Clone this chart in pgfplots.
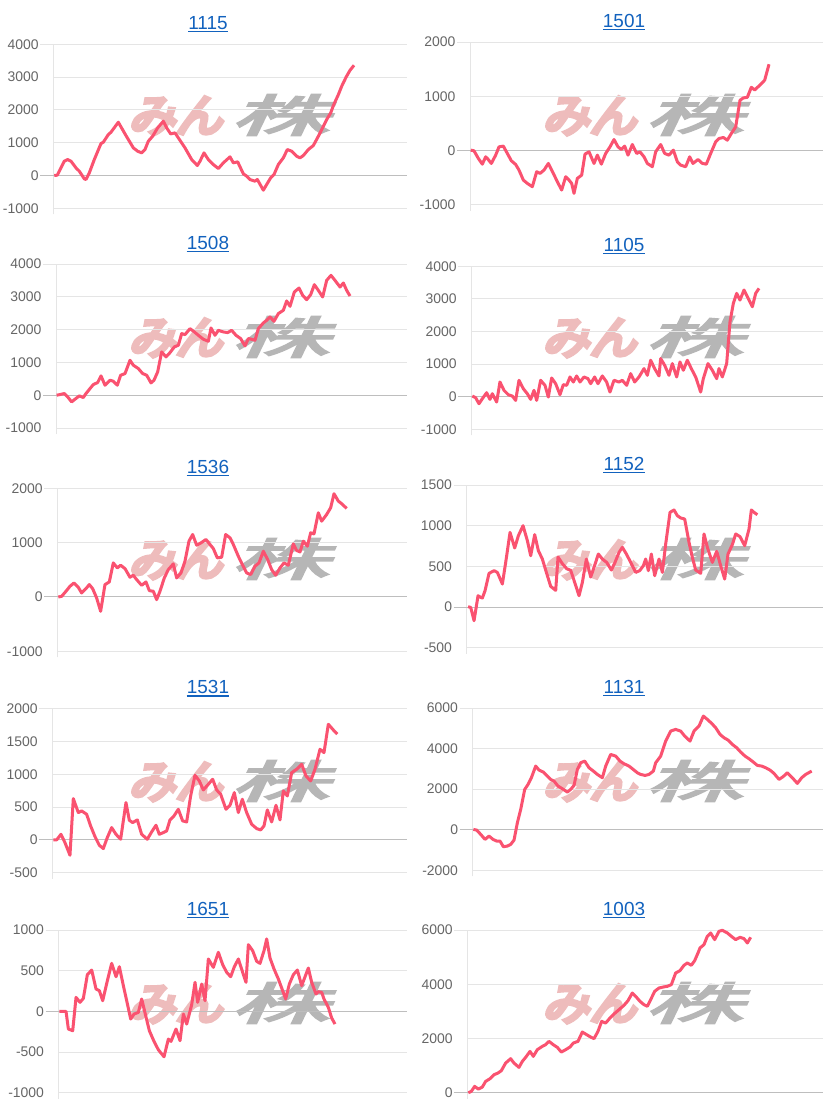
\documentclass[border=0pt]{standalone}
\usepackage{fontspec}
\setmainfont{Liberation Sans}
\newfontfamily\cjk[FakeSlant=0.22,FakeBold=3.5]{Noto Sans CJK JP}
\newfontfamily\cjkb[FakeSlant=0.22,FakeBold=9]{Noto Sans CJK JP}
\usepackage{pgfplots}
\pgfplotsset{compat=1.18}
\definecolor{gridc}{RGB}{229,229,229}
\definecolor{zeroc}{RGB}{190,190,190}
\definecolor{tickc}{RGB}{102,102,102}
\definecolor{linec}{RGB}{250,82,112}
\definecolor{titlec}{RGB}{18,98,190}
\definecolor{wmpink}{RGB}{238,188,188}
\definecolor{wmgray}{RGB}{182,182,182}
\pgfplotsset{
  panel/.style={
    scale only axis, anchor=south west, clip=false,
    axis x line=none, axis y line*=left,
    y axis line style={draw=gridc, line width=1bp, shorten <=-6bp},
    ymajorgrids, grid style={draw=gridc, line width=1bp, shorten <=-13bp},
    tick align=outside, major tick length=13bp,
    ytick style={draw=none},
    yticklabel style={font=\fontsize{14}{14}\selectfont, text=tickc, inner sep=1.5bp},
    scaled y ticks=false,
    /pgf/number format/fixed, /pgf/number format/1000 sep={},
    /pgf/number format/assume math mode=true,
    xtick=\empty,
    extra y ticks={0}, extra y tick labels={},
    extra y tick style={grid style={draw=zeroc, line width=1bp, shorten <=-13bp}},
  },
  ln/.style={color=linec, line width=3bp, line join=round, no markers},
}
\newcommand\wm[2]{%
  \node[anchor=base west, inner sep=0, text=wmpink, font=\cjkb\fontsize{45}{45}\selectfont, xscale=1.05] at ({#1+128},{-(#2+132)}) {みん};
  \node[anchor=base west, inner sep=0, text=wmgray, font=\cjk\fontsize{45}{45}\selectfont, xscale=2.2] at ({#1+230},{-(#2+132)}) {株};
}
\newcommand\ttl[3]{%
  \node[anchor=base, inner sep=0, text=titlec, font=\fontsize{19}{19}\selectfont] (t) at (#1,-#2) {#3};
  \draw[titlec, line width=1.3bp] ([yshift=-2.3bp]t.base west) -- ([yshift=-2.3bp]t.base east);
}
\begin{document}
\begin{tikzpicture}[x=1bp,y=1bp]
\useasboundingbox (0,0) rectangle (828,-1110);
\fill[white] (0,0) rectangle (828,-1110);
\wm{0}{0}\wm{414}{0}
\wm{0}{222}\wm{414}{222}
\wm{0}{444}\wm{414}{444}
\wm{0}{666}\wm{414}{666}
\wm{0}{888}\wm{414}{888}
\ttl{208}{29.3}{1115}
\ttl{624}{27}{1501}
\ttl{208}{249}{1508}
\ttl{624}{251.3}{1105}
\ttl{208}{473.3}{1536}
\ttl{624}{470}{1152}
\ttl{208}{693.7}{1531}
\ttl{624}{693}{1131}
\ttl{208}{915}{1651}
\ttl{624}{915}{1003}

% 1115
\begin{axis}[panel, at={(53.3bp,-208.3bp)}, width=353.4bp, height=164bp,
  xmin=160, xmax=1220, ymin=-1000, ymax=4000, ytick={-1000,0,1000,2000,3000,4000}]
\addplot[ln] coordinates {(163,0)(172,10)(193,436)(203,487)(213,436)(228,233)(238,132)(253,-101)(258,-122)(268,81)(283,487)(303,974)(310,1015)(325,1248)(333,1320)(355,1624)(378,1218)(400,843)(413,741)(425,690)(435,792)(445,1046)(458,1198)(473,1452)(490,1655)(500,1452)(512,1269)(525,1299)(535,1147)(555,843)(575,487)(592,305)(600,436)(612,690)(625,487)(640,335)(655,213)(670,386)(690,569)(700,386)(713,416)(730,51)(740,-20)(750,-122)(765,-173)(772,-122)(790,-447)(800,-274)(812,-71)(822,30)(835,335)(850,538)(862,792)(875,741)(890,589)(900,538)(910,609)(925,792)(940,914)(955,1198)(965,1401)(980,1706)(992,1909)(1000,2132)(1015,2467)(1025,2721)(1038,2995)(1050,3208)(1062,3360)};
\end{axis}

% 1501
\begin{axis}[panel, at={(470bp,-204.7bp)}, width=353bp, height=162.7bp,
  xmin=168, xmax=1227, ymin=-1000, ymax=2000, ytick={-1000,0,1000,2000}]
\addplot[ln] coordinates {(170,6)(180,-6)(193,-147)(205,-252)(215,-117)(220,-147)(232,-239)(245,-86)(255,67)(268,80)(280,-55)(292,-190)(305,-258)(315,-362)(328,-546)(340,-607)(355,-668)(368,-392)(378,-423)(390,-362)(403,-239)(418,-423)(430,-576)(443,-730)(455,-484)(465,-546)(473,-607)(480,-791)(490,-515)(503,-454)(513,-67)(525,-25)(540,-239)(550,-86)(562,-252)(575,-55)(588,67)(600,202)(612,67)(622,18)(632,80)(642,-86)(655,110)(668,-55)(678,-25)(690,-117)(700,-239)(715,-300)(725,-25)(740,110)(752,-55)(765,-86)(778,6)(790,-208)(800,-270)(815,-300)(827,-117)(837,-239)(852,-166)(865,-239)(877,-252)(890,-55)(905,159)(915,221)(928,239)(940,190)(952,313)(965,435)(978,926)(988,969)(1000,981)(1012,1165)(1022,1116)(1035,1190)(1052,1296)(1065,1590)};
\end{axis}

% 1508
\begin{axis}[panel, at={(56bp,-428bp)}, width=351bp, height=164bp,
  xmin=168, xmax=1221, ymin=-1000, ymax=4000, ytick={-1000,0,1000,2000,3000,4000}]
\addplot[ln] coordinates {(170,0)(180,20)(193,51)(203,-51)(215,-203)(225,-122)(238,-20)(250,-71)(258,51)(270,203)(280,325)(293,386)(303,589)(315,305)(330,457)(340,426)(352,305)(362,609)(375,660)(390,1066)(400,914)(415,812)(428,660)(440,609)(453,376)(462,457)(473,711)(485,1320)(498,1168)(510,1299)(523,1472)(535,1523)(545,1878)(555,1848)(570,2030)(583,1929)(595,1827)(610,1706)(625,1645)(633,2050)(645,1827)(655,1979)(670,1929)(683,1909)(695,1979)(708,1827)(722,1726)(735,1503)(745,1726)(755,1706)(765,1675)(775,2030)(790,2203)(800,2284)(810,2386)(822,2254)(835,2487)(850,2589)(860,2873)(870,2710)(883,3147)(897,3268)(908,3045)(920,2913)(932,3065)(943,3370)(955,3197)(968,2994)(980,3502)(993,3654)(1005,3502)(1020,3299)(1030,3421)(1040,3197)(1050,3025)};
\end{axis}

% 1105
\begin{axis}[panel, at={(471.3bp,-429.3bp)}, width=351.7bp, height=163bp,
  xmin=172, xmax=1227, ymin=-1000, ymax=4000, ytick={-1000,0,1000,2000,3000,4000}]
\addplot[ln] coordinates {(175,21)(185,-31)(195,-215)(205,-62)(218,123)(228,-82)(235,92)(248,-164)(258,452)(270,195)(283,62)(295,21)(305,-113)(315,503)(328,246)(340,92)(350,-82)(360,195)(368,-113)(380,503)(393,349)(403,-10)(413,575)(425,400)(438,62)(448,370)(458,349)(468,605)(478,451)(488,636)(498,451)(510,605)(522,554)(530,400)(542,605)(552,400)(565,636)(578,451)(588,144)(600,503)(615,451)(625,503)(638,349)(650,708)(662,451)(675,605)(690,862)(700,657)(710,1118)(722,862)(735,636)(740,1170)(752,964)(765,657)(775,1016)(788,605)(798,1067)(808,811)(820,1118)(832,862)(845,605)(860,144)(868,554)(882,1016)(895,811)(908,554)(915,862)(925,605)(938,1016)(948,2298)(958,2863)(968,3170)(978,2965)(990,3273)(1000,3068)(1015,2760)(1025,3170)(1035,3324)};
\end{axis}

% 1536
\begin{axis}[panel, at={(57.3bp,-651.3bp)}, width=349.7bp, height=163bp,
  xmin=172, xmax=1221, ymin=-1000, ymax=2000, ytick={-1000,0,1000,2000}]
\addplot[ln] coordinates {(175,0)(185,12)(198,105)(210,197)(222,258)(235,178)(245,74)(258,154)(268,228)(278,154)(290,-18)(302,-264)(315,228)(328,277)(340,627)(352,535)(362,584)(375,523)(390,363)(400,400)(410,320)(425,215)(438,277)(448,117)(460,105)(470,-49)(480,105)(493,351)(505,504)(520,609)(530,351)(543,443)(555,658)(567,1027)(578,1150)(590,953)(603,996)(618,1058)(630,966)(640,892)(652,720)(665,732)(677,1150)(690,1089)(700,966)(715,750)(727,597)(740,443)(752,412)(765,566)(777,627)(790,842)(803,689)(815,504)(827,400)(840,535)(852,627)(865,584)(880,978)(890,855)(900,830)(910,1027)(922,935)(932,1181)(942,1162)(955,1550)(965,1396)(980,1519)(992,1642)(1002,1900)(1015,1765)(1025,1716)(1040,1630)};
\end{axis}

% 1152
\begin{axis}[panel, at={(466.7bp,-647.7bp)}, width=356.3bp, height=162.7bp,
  xmin=158, xmax=1227, ymin=-500, ymax=1500, ytick={-500,0,500,1000,1500}]
\addplot[ln] coordinates {(162,4)(170,-4)(180,-168)(192,139)(200,119)(205,111)(213,201)(225,414)(240,447)(250,426)(265,283)(275,549)(288,918)(302,726)(313,877)(327,1000)(340,816)(350,631)(362,890)(373,693)(385,590)(397,426)(410,254)(425,205)(432,615)(445,533)(458,471)(470,451)(480,328)(495,139)(505,303)(517,590)(530,369)(540,488)(553,652)(565,590)(578,549)(592,455)(603,549)(615,672)(625,734)(637,652)(650,549)(665,426)(677,447)(688,508)(695,590)(703,447)(712,652)(722,385)(735,590)(745,426)(755,775)(768,1164)(780,1193)(790,1123)(800,1095)(812,1082)(825,795)(835,611)(845,455)(860,414)(870,898)(880,734)(895,549)(908,685)(920,508)(932,344)(942,652)(955,767)(965,898)(978,865)(992,754)(1005,959)(1012,1193)(1020,1164)(1030,1135)};
\end{axis}

% 1531
\begin{axis}[panel, at={(52.3bp,-872.7bp)}, width=354.7bp, height=164bp,
  xmin=157, xmax=1221, ymin=-500, ymax=2000, ytick={-500,0,500,1000,1500,2000}]
\addplot[ln] coordinates {(160,0)(170,0)(183,86)(195,-41)(210,-234)(220,630)(235,417)(245,442)(260,391)(272,213)(285,51)(298,-81)(310,-132)(322,36)(335,188)(348,86)(362,10)(378,569)(388,300)(398,264)(412,305)(425,86)(442,10)(455,122)(468,224)(478,86)(490,112)(500,137)(510,305)(522,366)(535,467)(548,290)(560,274)(572,671)(585,986)(598,899)(610,762)(625,848)(638,925)(650,762)(662,696)(678,467)(690,528)(703,721)(715,417)(727,620)(740,417)(755,239)(770,173)(782,152)(792,213)(802,457)(815,274)(828,528)(840,305)(850,747)(862,671)(875,1026)(890,1077)(905,1153)(918,975)(932,899)(945,1077)(960,1382)(972,1331)(985,1763)(1000,1676)(1012,1615)};
\end{axis}

% 1131
\begin{axis}[panel, at={(472.7bp,-870.3bp)}, width=350.3bp, height=162.3bp,
  xmin=176, xmax=1227, ymin=-2000, ymax=6000, ytick={-2000,0,2000,4000,6000}]
\addplot[ln] coordinates {(178,16)(188,-16)(200,-230)(213,-476)(225,-312)(237,-476)(248,-559)(258,-559)(268,-838)(280,-805)(290,-723)(300,-509)(310,345)(320,1002)(332,1988)(342,2234)(352,2563)(365,3138)(375,2941)(388,2842)(400,2645)(410,2481)(420,2399)(432,2152)(445,2021)(460,1857)(470,1988)(480,2185)(490,2974)(500,3302)(512,3384)(525,3056)(538,2892)(550,2727)(565,2563)(575,3138)(590,3713)(605,3631)(618,3384)(630,3253)(645,3138)(655,3007)(670,2809)(680,2727)(693,2678)(705,2727)(718,2892)(725,3302)(740,3631)(755,4370)(770,4863)(785,4946)(800,4863)(812,4617)(828,4370)(840,4863)(855,5110)(868,5603)(880,5438)(893,5241)(905,5028)(918,4699)(930,4535)(942,4420)(955,4206)(968,4042)(980,3828)(993,3631)(1005,3500)(1018,3335)(1030,3171)(1043,3138)(1055,3056)(1068,2941)(1080,2776)(1095,2481)(1107,2612)(1120,2809)(1135,2563)(1150,2284)(1163,2563)(1175,2727)(1193,2892)};
\end{axis}

% 1651
\begin{axis}[panel, at={(58.7bp,-1092.7bp)}, width=348.3bp, height=162.7bp,
  xmin=176, xmax=1221, ymin=-1000, ymax=1000, ytick={-1000,-500,0,500,1000}]
\addplot[ln] coordinates {(178,0)(190,0)(198,0)(205,-217)(218,-238)(228,172)(240,111)(250,160)(262,451)(275,508)(288,275)(298,254)(308,131)(322,377)(335,590)(348,426)(358,549)(370,316)(380,131)(392,-94)(402,-33)(415,-12)(425,152)(437,-53)(448,-238)(462,-369)(475,-472)(492,-558)(505,-340)(513,-369)(528,-217)(540,-361)(550,-33)(560,-156)(575,82)(585,357)(593,111)(605,336)(615,131)(625,644)(640,541)(655,726)(668,574)(680,480)(692,426)(703,549)(715,644)(728,480)(738,357)(745,820)(758,746)(770,615)(780,590)(792,746)(800,890)(810,656)(822,521)(835,398)(848,254)(857,152)(868,336)(880,451)(892,508)(905,316)(925,533)(935,357)(948,213)(955,242)(965,234)(972,152)(985,49)(995,-82)(1005,-156)};
\end{axis}

% 1003
\begin{axis}[panel, at={(467.3bp,-1092.7bp)}, width=355.7bp, height=162.7bp,
  xmin=160, xmax=1227, ymin=0, ymax=6000, ytick={0,2000,4000,6000}]
\addplot[ln] coordinates {(163,0)(172,49)(182,234)(193,135)(205,209)(215,418)(228,517)(240,664)(252,726)(262,812)(275,1095)(290,1255)(300,1095)(315,935)(325,1156)(335,1304)(348,1525)(358,1341)(370,1587)(385,1710)(395,1771)(405,1894)(418,1771)(430,1673)(442,1500)(455,1587)(468,1685)(478,1833)(492,1894)(505,2238)(518,2140)(530,2054)(540,1993)(552,2263)(563,2632)(575,2570)(588,2755)(600,2903)(615,3063)(630,3223)(642,3395)(655,3678)(665,3555)(678,3370)(690,3247)(700,3186)(710,3432)(722,3739)(735,3862)(748,3899)(760,3924)(772,3985)(785,4416)(798,4502)(810,4699)(820,4785)(832,4699)(842,4871)(852,5154)(858,5338)(870,5461)(880,5769)(890,5892)(902,5646)(915,5953)(925,5990)(940,5892)(952,5769)(965,5646)(978,5732)(990,5683)(1000,5523)(1010,5732)};
\end{axis}
\end{tikzpicture}
\end{document}
